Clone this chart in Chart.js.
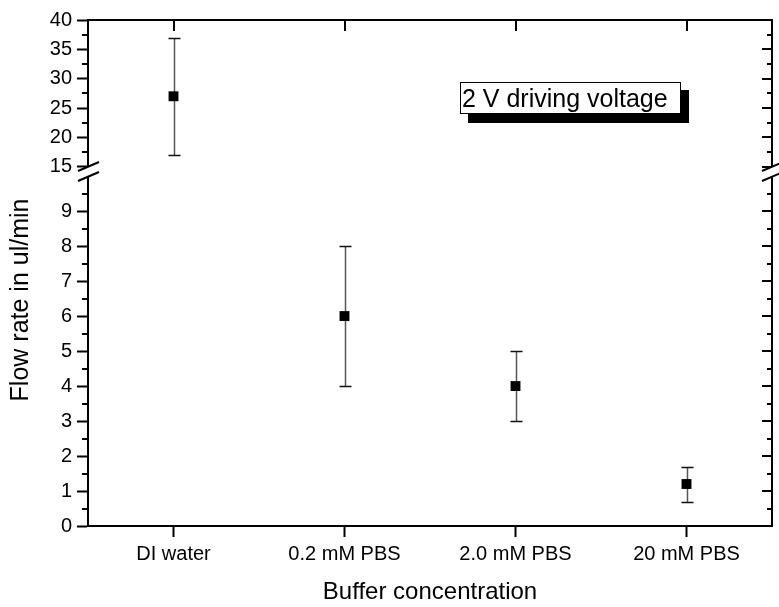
<!DOCTYPE html>
<html>
<head>
<meta charset="utf-8">
<title>Flow rate vs buffer concentration</title>
<script src="https://cdn.jsdelivr.net/npm/chart.js@4.4.1/dist/chart.umd.min.js"></script>
<style>
  html, body { margin: 0; padding: 0; background: #fff; }
  #chart { display: block; }
</style>
</head>
<body>
<canvas id="chart" width="779" height="607"></canvas>
<script>
// Flow rate per buffer (ul/min) and its +/- spread
const buffers = ['DI water', '0.2 mM PBS', '2.0 mM PBS', '20 mM PBS'];
const flowRate = [27, 6, 4, 1.2];
const flowSpread = [10, 2, 1, 0.5];

// Broken y axis: values at or above breakAt go on the upper segment
const breakAt = 15;
const lowerRange = [0, 10];
const upperRange = [13.4, 40];
const lowerTicks = [0, 1, 2, 3, 4, 5, 6, 7, 8, 9];
const lowerMinor = [0.5, 1.5, 2.5, 3.5, 4.5, 5.5, 6.5, 7.5, 8.5, 9.5];
const upperTicks = [15, 20, 25, 30, 35, 40];
const upperMinor = [17.5, 22.5, 27.5, 32.5, 37.5];

const FONT = 'Liberation Sans, Arial, sans-serif';
const UPPER_DENSITY = 0.1677; // upper segment px per unit, relative to lower

const onUpper = flowRate.map((v) => (v >= breakAt ? v : null));
const onLower = flowRate.map((v) => (v < breakAt ? v : null));

function fixTicks(values) {
  return (scale) => {
    scale.ticks = values.map((v) => ({ value: v }));
  };
}

const axisGrid = {
  drawOnChartArea: false,
  drawTicks: true,
  tickLength: 11,
  tickWidth: 2,
  tickColor: '#000',
  offset: false
};

const yTickStyle = {
  color: '#000',
  font: { family: FONT, size: 20 },
  padding: 5,
  autoSkip: false
};

// Error bars under the square markers
const errorBars = {
  id: 'errorBars',
  beforeDatasetsDraw(chart) {
    const ctx = chart.ctx;
    const xs = chart.scales.x;
    ctx.save();
    flowRate.forEach((v, i) => {
      const ys = v >= breakAt ? chart.scales.yTop : chart.scales.yBot;
      const px = Math.round(xs.getPixelForValue(i)) + 0.5;
      const top = Math.round(ys.getPixelForValue(v + flowSpread[i])) + 0.5;
      const bot = Math.round(ys.getPixelForValue(v - flowSpread[i])) + 0.5;
      ctx.lineWidth = 1.5;
      ctx.strokeStyle = '#555';
      ctx.beginPath();
      ctx.moveTo(px, top);
      ctx.lineTo(px, bot);
      ctx.stroke();
      ctx.strokeStyle = '#111';
      ctx.beginPath();
      ctx.moveTo(px - 6, top);
      ctx.lineTo(px + 6, top);
      ctx.moveTo(px - 6, bot);
      ctx.lineTo(px + 6, bot);
      ctx.stroke();
    });
    ctx.restore();
  }
};

// Mirrored axes, minor ticks, axis break, y title and the note box
const frame = {
  id: 'frame',
  afterDraw(chart) {
    const ctx = chart.ctx;
    const area = chart.chartArea;
    const xs = chart.scales.x;
    const yTop = chart.scales.yTop;
    const yBot = chart.scales.yBot;
    ctx.save();
    ctx.strokeStyle = '#000';
    ctx.lineWidth = 2;

    // top and right axis lines
    ctx.beginPath();
    ctx.moveTo(area.left - 1, area.top);
    ctx.lineTo(area.right + 1, area.top);
    ctx.moveTo(area.right, area.top);
    ctx.lineTo(area.right, area.bottom + 1);
    ctx.stroke();

    const hTick = (x0, x1, y) => {
      ctx.moveTo(x0, y);
      ctx.lineTo(x1, y);
    };
    ctx.beginPath();
    // major ticks on the right, pointing in
    upperTicks.forEach((v) => hTick(area.right - 10, area.right, Math.round(yTop.getPixelForValue(v))));
    lowerTicks.forEach((v) => hTick(area.right - 10, area.right, Math.round(yBot.getPixelForValue(v))));
    // minor ticks: outward on the left, inward on the right
    upperMinor.forEach((v) => {
      const y = Math.round(yTop.getPixelForValue(v));
      hTick(area.left - 6, area.left, y);
      hTick(area.right - 5, area.right, y);
    });
    lowerMinor.forEach((v) => {
      const y = Math.round(yBot.getPixelForValue(v));
      hTick(area.left - 6, area.left, y);
      hTick(area.right - 5, area.right, y);
    });
    // category ticks along the top, pointing in
    buffers.forEach((_, i) => {
      const x = Math.round(xs.getPixelForValue(i));
      ctx.moveTo(x, area.top);
      ctx.lineTo(x, area.top + 11);
    });
    ctx.stroke();

    // axis break marks on both sides
    const yb = Math.round(yBot.getPixelForValue(lowerRange[1]));
    [area.left, area.right].forEach((cx) => {
      ctx.fillStyle = '#fff';
      ctx.beginPath();
      ctx.moveTo(cx - 10, yb - 5);
      ctx.lineTo(cx + 11, yb - 14);
      ctx.lineTo(cx + 11, yb - 4);
      ctx.lineTo(cx - 10, yb + 5);
      ctx.closePath();
      ctx.fill();
      ctx.beginPath();
      ctx.moveTo(cx - 10, yb - 5);
      ctx.lineTo(cx + 11, yb - 14);
      ctx.moveTo(cx - 10, yb + 5);
      ctx.lineTo(cx + 11, yb - 4);
      ctx.stroke();
    });

    // y axis title
    ctx.fillStyle = '#000';
    ctx.font = '25px ' + FONT;
    ctx.textAlign = 'center';
    ctx.textBaseline = 'middle';
    ctx.translate(21, 300);
    ctx.rotate(-Math.PI / 2);
    ctx.fillText('Flow rate in ul/min', 0, 0);
    ctx.setTransform(1, 0, 0, 1, 0, 0);

    // note box with drop shadow
    const bx = 460, by = 82, bw = 221, bh = 32;
    ctx.fillStyle = '#000';
    ctx.fillRect(bx + 8, by + 8, bw, bh + 1);
    ctx.fillStyle = '#fff';
    ctx.fillRect(bx, by, bw, bh);
    ctx.lineWidth = 1;
    ctx.strokeRect(bx + 0.5, by + 0.5, bw - 1, bh - 1);
    ctx.fillStyle = '#000';
    ctx.font = '25px ' + FONT;
    ctx.textAlign = 'left';
    ctx.textBaseline = 'alphabetic';
    ctx.fillText('2 V driving voltage', bx + 2, by + 25);
    ctx.restore();
  }
};

const chart = new Chart(document.getElementById('chart'), {
  type: 'line',
  data: {
    labels: buffers,
    datasets: [
      {
        data: onLower,
        yAxisID: 'yBot',
        showLine: false,
        pointStyle: 'rect',
        pointRadius: 7,
        pointBackgroundColor: '#000',
        pointBorderColor: '#000',
        pointBorderWidth: 0
      },
      {
        data: onUpper,
        yAxisID: 'yTop',
        showLine: false,
        pointStyle: 'rect',
        pointRadius: 7,
        pointBackgroundColor: '#000',
        pointBorderColor: '#000',
        pointBorderWidth: 0
      }
    ]
  },
  options: {
    responsive: false,
    animation: false,
    layout: { padding: { left: 0, top: 20, right: 1, bottom: 0 } },
    plugins: {
      legend: { display: false },
      tooltip: { enabled: false }
    },
    scales: {
      x: {
        type: 'category',
        offset: true,
        grid: axisGrid,
        border: { display: true, width: 2, color: '#000' },
        ticks: { color: '#000', font: { family: FONT, size: 20 }, padding: 5, maxRotation: 0, autoSkip: false },
        title: {
          display: true,
          text: 'Buffer concentration',
          color: '#000',
          font: { family: FONT, size: 24 },
          padding: { top: 0, bottom: 0 }
        },
        afterFit: (s) => { s.height = 81; }
      },
      yBot: {
        type: 'linear',
        position: 'left',
        stack: 'flow',
        stackWeight: lowerRange[1] - lowerRange[0],
        min: lowerRange[0],
        max: lowerRange[1],
        grid: axisGrid,
        border: { display: true, width: 2, color: '#000' },
        ticks: yTickStyle,
        afterBuildTicks: fixTicks(lowerTicks),
        afterFit: (s) => { s.width = 88; }
      },
      yTop: {
        type: 'linear',
        position: 'left',
        stack: 'flow',
        stackWeight: (upperRange[1] - upperRange[0]) * UPPER_DENSITY,
        min: upperRange[0],
        max: upperRange[1],
        grid: axisGrid,
        border: { display: true, width: 2, color: '#000' },
        ticks: yTickStyle,
        afterBuildTicks: fixTicks(upperTicks),
        afterFit: (s) => { s.width = 88; }
      }
    }
  },
  plugins: [errorBars, frame]
});
</script>
</body>
</html>
